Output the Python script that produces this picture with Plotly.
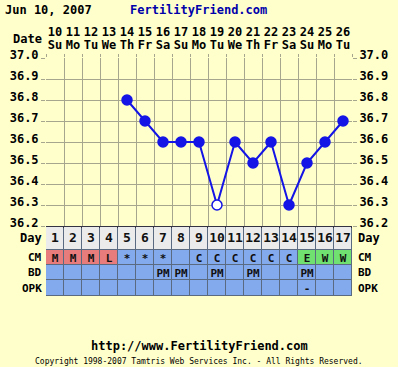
import plotly.graph_objects as go

W, H = 398, 367
def px(x): return x / W
def py(y): return 1 - y / H

# ---------------- data ----------------
cycle_days = list(range(1, 18))
dates = ["10", "11", "12", "13", "14", "15", "16", "17", "18", "19", "20", "21", "22", "23", "24", "25", "26"]
weekdays = ["Su", "Mo", "Tu", "We", "Th", "Fr", "Sa", "Su", "Mo", "Tu", "We", "Th", "Fr", "Sa", "Su", "Mo", "Tu"]

temp_days = [5, 6, 7, 8, 9, 10, 11, 12, 13, 14, 15, 16, 17]
temps = [36.8, 36.7, 36.6, 36.6, 36.6, 36.3, 36.6, 36.5, 36.6, 36.3, 36.5, 36.6, 36.7]
temp_open = [False, False, False, False, False, True, False, False, False, False, False, False, False]

cm = ["M", "M", "M", "L", "*", "*", "*", "", "C", "C", "C", "C", "C", "C", "E", "W", "W"]
cm_kind = [2, 2, 2, 2, 1, 1, 1, 1, 1, 1, 1, 1, 1, 1, 3, 3, 3]   # 1 blue, 2 red, 3 green
bd = ["", "", "", "", "", "", "PM", "PM", "", "PM", "", "PM", "", "", "PM", "", ""]
opk = ["", "", "", "", "", "", "", "", "", "", "", "", "", "", "-", "", ""]

row_labels = ["Day", "CM", "BD", "OPK"]
row_edges = [0, 23, 39, 54, 70]

y_ticks = [36.2, 36.3, 36.4, 36.5, 36.6, 36.7, 36.8, 36.9, 37.0]
y_labels = ["%.1f" % v for v in y_ticks]

# ---------------- styling ----------------
BG = "#FFFFCC"
GRID = "#A6A68E"
BLUE = "#1414E6"
FONT = "DejaVu Sans Mono"

fig = go.Figure()

fig.add_trace(go.Scatter(
    x=temp_days, y=temps, mode="lines+markers",
    line=dict(color=BLUE, width=2),
    marker=dict(size=10, color=["white" if o else BLUE for o in temp_open],
                line=dict(color=BLUE, width=1.5)),
    xaxis="x", yaxis="y", hoverinfo="skip", showlegend=False,
))

# invisible carriers so overlay axes get drawn
for xa, ya in [("x2", "y"), ("x3", "y"), ("x5", "y"), ("x", "y3")]:
    fig.add_trace(go.Scatter(x=cycle_days, y=[None] * len(cycle_days), mode="markers",
                             xaxis=xa, yaxis=ya, showlegend=False, hoverinfo="skip"))

# table as heatmap
z = [[0] * 17, cm_kind, [1] * 17, [1] * 17]
text = [["<span style='font-size:13px'>%d</span>" % d for d in cycle_days], cm, bd, opk]
colorscale = [[0, "#EBEBEB"], [0.25, "#EBEBEB"], [0.25, "#84AAEE"], [0.5, "#84AAEE"],
              [0.5, "#E87C7C"], [0.75, "#E87C7C"], [0.75, "#70E070"], [1, "#70E070"]]
fig.add_trace(go.Heatmap(
    x=cycle_days, y=row_edges, z=z, zmin=-0.5, zmax=3.5,
    colorscale=colorscale, showscale=False, xgap=1, ygap=1,
    text=text, texttemplate="%{text}",
    textfont=dict(family=FONT, size=11, color="#111111", weight="bold"),
    xaxis="x4", yaxis="y2", hoverinfo="skip",
))

xdom = [px(46), px(352)]
tickfont = dict(family=FONT, size=12, weight="bold", color="black")
fig.update_layout(
    width=W, height=H, margin=dict(l=0, r=0, t=0, b=0, pad=0),
    paper_bgcolor=BG, plot_bgcolor=BG,
    font=dict(family=FONT, size=12, color="black", weight="bold"),
    xaxis=dict(domain=xdom, range=[0.5, 17.5], anchor="y", automargin=False,
               tickvals=[d - 0.5 for d in cycle_days] + [17.5], showticklabels=False,
               showgrid=True, gridcolor=GRID, gridwidth=1, ticks="",
               showline=True, linecolor="#333344", linewidth=2, zeroline=False),
    xaxis2=dict(overlaying="x", matches="x", side="top", anchor="free", position=py(38),
                automargin=False,
                tickvals=cycle_days, ticktext=dates, showgrid=False, ticks="", showline=False,
                tickfont=tickfont, zeroline=False),
    xaxis3=dict(overlaying="x", matches="x", side="top", anchor="free", position=py(51),
                automargin=False,
                tickvals=cycle_days, ticktext=weekdays, showgrid=False, ticks="", showline=False,
                tickfont=tickfont, zeroline=False),
    xaxis5=dict(overlaying="x", matches="x", side="top", anchor="y", automargin=False,
                tickvals=[d - 0.5 for d in cycle_days] + [17.5], showticklabels=False,
                ticks="outside", ticklen=3, tickcolor=GRID, showgrid=False, showline=False,
                zeroline=False),
    xaxis4=dict(domain=xdom, matches="x", anchor="y2", visible=False, automargin=False),
    yaxis=dict(domain=[py(226), py(58)], range=[36.2, 37.0], anchor="x", automargin=False,
               tickvals=y_ticks, ticktext=y_labels, showgrid=True, gridcolor=GRID,
               ticks="outside", ticklen=4, tickcolor=GRID, zeroline=False,
               ticklabelshift=-3, tickfont=tickfont),
    yaxis3=dict(overlaying="y", matches="y", side="right", anchor="x", automargin=False,
                tickvals=y_ticks, ticktext=y_labels, showgrid=False,
                ticks="outside", ticklen=4, tickcolor=GRID, zeroline=False,
                ticklabelshift=-3, tickfont=tickfont),
    yaxis2=dict(domain=[py(296), py(227)], range=[row_edges[-1], row_edges[0]], anchor="x4",
                visible=False, automargin=False),
    shapes=[dict(type="rect", xref="x4 domain", yref="y2 domain", x0=0, x1=1, y0=0, y1=1,
                 fillcolor="#5A6A80", line=dict(width=0), layer="below")],
)

ann = []
centers = [(row_edges[i] + row_edges[i + 1]) / 2 for i in range(len(row_labels))]
for lab, c in zip(row_labels, centers):
    ann.append(dict(text=lab, xref="paper", yref="y2", x=px(44), y=c, xanchor="right",
                    yanchor="middle", showarrow=False, font=dict(size=12 if lab == "Day" else 11)))
    ann.append(dict(text=lab, xref="paper", yref="y2", x=px(356), y=c, xanchor="left",
                    yanchor="middle", showarrow=False, font=dict(size=12 if lab == "Day" else 11)))
ann += [
    dict(text="Jun 10, 2007", xref="paper", yref="paper", x=px(3), y=py(10), xanchor="left",
         yanchor="middle", showarrow=False, font=dict(size=12)),
    dict(text="FertilityFriend.com", xref="paper", yref="paper", x=px(198), y=py(10),
         xanchor="center", yanchor="middle", showarrow=False, font=dict(size=12, color="#0000AA")),
    dict(text="Date", xref="paper", yref="paper", x=px(44), y=py(39), xanchor="right",
         yanchor="middle", showarrow=False, font=dict(size=12)),
    dict(text="http://www.FertilityFriend.com", xref="paper", yref="paper", x=px(199), y=py(346),
         xanchor="center", yanchor="middle", showarrow=False, font=dict(size=12)),
    dict(text="Copyright 1998-2007 Tamtris Web Services Inc. - All Rights Reserved.",
         xref="paper", yref="paper", x=px(199), y=py(361), xanchor="center", yanchor="middle",
         showarrow=False, font=dict(size=8, weight="normal")),
]
fig.update_layout(annotations=ann)

fig.write_html("out.html", post_script="document.body.style.margin='0';",
               config={"displayModeBar": False})
